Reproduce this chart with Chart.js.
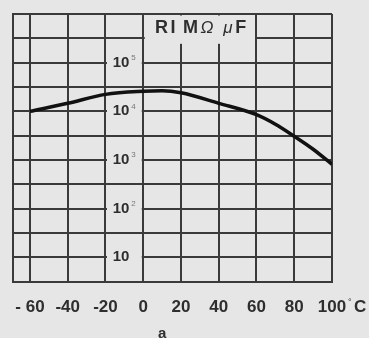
<!DOCTYPE html>
<html>
<head>
<meta charset="utf-8">
<script src="https://cdn.jsdelivr.net/npm/chart.js@4"></script>
<style>
  html, body { margin: 0; padding: 0; background: #e6e6e6; }
  #wrap { width: 369px; height: 338px; }
</style>
</head>
<body>
<div id="wrap"><canvas id="rc-chart" width="369" height="338"></canvas></div>
<script>
// temperature (°C) and insulation resistance * capacitance (MΩ·µF)
const temps = [-60, -40, -20, 0, 10, 20, 40, 60, 70, 80, 90, 100];
const rcValues = [10000, 14600, 22300, 25800, 26400, 24000, 14600, 8500, 5400, 3060, 1660, 815];

const xTicks = [-60, -40, -20, 0, 20, 40, 60, 80, 100];
const yGrid = [3.162, 10, 31.62, 100, 316.2, 1000, 3162, 10000, 31620, 100000, 316200, 1000000];
const yLabelValues = [100000, 10000, 1000, 100, 10];
const yLabelExps = ['5', '4', '3', '2', ''];

const bg = '#e6e6e6';
const lineCol = '#3a3a3a';
const textCol = '#2e2e2e';

const labelsPlugin = {
    id: 'scanLabels',
    beforeDatasetsDraw(chart) {
        const ctx = chart.ctx;
        const xs = chart.scales.x, ys = chart.scales.y;
        const top = chart.chartArea.top;
        ctx.save();
        ctx.fillStyle = bg;
        // title box
        const tx0 = xs.getPixelForValue(0) + 1.5, tx1 = xs.getPixelForValue(60) - 1.5;
        ctx.fillRect(tx0, top + 1.5, tx1 - tx0, ys.getPixelForValue(316200) + 4 - top);
        // y label boxes
        const lx0 = xs.getPixelForValue(-20) + 1.5, lx1 = xs.getPixelForValue(0) - 1.5;
        yLabelValues.forEach(v => {
            const py = ys.getPixelForValue(v);
            ctx.fillRect(lx0, py - 8, lx1 - lx0, 16);
        });
        // y labels
        ctx.fillStyle = textCol;
        ctx.textBaseline = 'middle';
        yLabelValues.forEach((v, i) => {
            const py = ys.getPixelForValue(v);
            ctx.font = 'bold 15px "Liberation Sans", Arial, sans-serif';
            ctx.textAlign = 'right';
            const cx = (lx0 + lx1) / 2 + 5;
            ctx.fillText('10', cx, py);
            ctx.font = '8px "Liberation Sans", Arial, sans-serif';
            ctx.textAlign = 'left';
            ctx.fillStyle = '#777';
            ctx.fillText(yLabelExps[i], cx + 2, py - 5);
            ctx.fillStyle = textCol;
        });
        // title "RI MΩ µF"
        const parts = [
            ['R', 'bold 18px "Liberation Sans", Arial, sans-serif'],
            ['I', 'bold 18px "Liberation Sans", Arial, sans-serif'],
            [' M', 'bold 18px "Liberation Sans", Arial, sans-serif'],
            ['Ω', 'italic 17px "Liberation Sans", Arial, sans-serif'],
            [' ', 'bold 18px "Liberation Sans", Arial, sans-serif'],
            ['μ', 'italic 17px "Liberation Sans", Arial, sans-serif'],
            ['F', 'bold 18px "Liberation Sans", Arial, sans-serif']
        ];
        const gap = 2.5;
        let total = 0;
        parts.forEach(p => { ctx.font = p[1]; total += ctx.measureText(p[0]).width + gap; });
        let px = xs.getPixelForValue(31) - total / 2;
        const py = top + 14;
        ctx.textAlign = 'left';
        parts.forEach(p => {
            ctx.font = p[1];
            ctx.fillText(p[0], px, py);
            px += ctx.measureText(p[0]).width + gap;
        });
        ctx.restore();
    },
    afterDraw(chart) {
        const ctx = chart.ctx;
        const xs = chart.scales.x;
        ctx.save();
        ctx.fillStyle = textCol;
        ctx.textBaseline = 'middle';
        ctx.textAlign = 'left';
        const px = xs.getPixelForValue(100) + 16;
        const py = chart.chartArea.bottom + 26;
        ctx.font = '9px "Liberation Sans", Arial, sans-serif';
        ctx.fillText('°', px, py - 5);
        ctx.font = 'bold 17px "Liberation Sans", Arial, sans-serif';
        ctx.fillText('C', px + 6, py);
        ctx.textAlign = 'center';
        ctx.font = 'bold 15px "Liberation Sans", Arial, sans-serif';
        ctx.fillText('a', xs.getPixelForValue(10), py + 26);
        ctx.restore();
    }
};

const ctx = document.getElementById('rc-chart').getContext('2d');
new Chart(ctx, {
    type: 'line',
    data: {
        datasets: [{
            data: temps.map((t, i) => ({ x: t, y: rcValues[i] })),
            borderColor: '#111',
            borderWidth: 3.5,
            pointRadius: 0,
            fill: false,
            cubicInterpolationMode: 'monotone'
        }]
    },
    options: {
        responsive: false,
        animation: false,
        devicePixelRatio: 1,
        layout: { padding: { left: 13, right: 37, top: 14, bottom: 20 } },
        plugins: { legend: { display: false }, tooltip: { enabled: false } },
        scales: {
            x: {
                type: 'linear',
                min: -69,
                max: 100,
                afterBuildTicks: s => { s.ticks = xTicks.map(v => ({ value: v })); },
                grid: { color: lineCol, lineWidth: 2, drawTicks: true, tickLength: 16, tickColor: 'rgba(0,0,0,0)' },
                border: { color: lineCol, width: 2 },
                ticks: {
                    padding: 0,
                    color: textCol,
                    font: { family: '"Liberation Sans", Arial, sans-serif', size: 17, weight: 'bold' },
                    callback: v => v === -60 ? '- 60' : String(v)
                }
            },
            y: {
                type: 'logarithmic',
                min: 3.162,
                max: 1000000,
                afterBuildTicks: s => { s.ticks = yGrid.map(v => ({ value: v })); },
                grid: { color: lineCol, lineWidth: 2, drawTicks: false },
                border: { color: lineCol, width: 2 },
                ticks: { display: false }
            }
        }
    },
    plugins: [labelsPlugin]
});
</script>
</body>
</html>
